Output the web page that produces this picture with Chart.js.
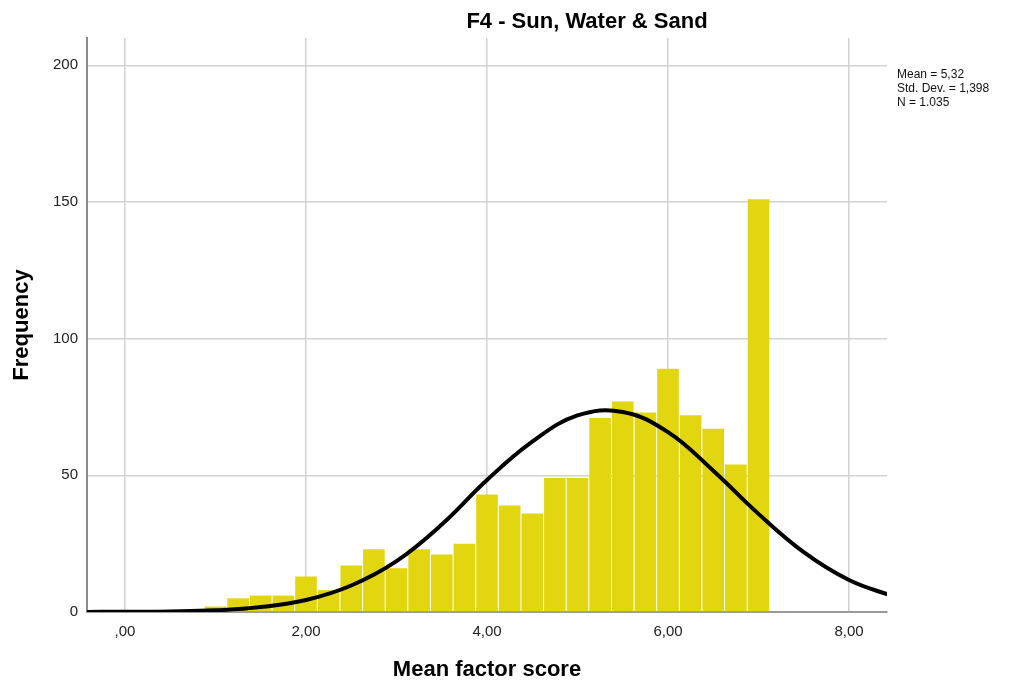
<!DOCTYPE html>
<html>
<head>
<meta charset="utf-8">
<script src="https://cdn.jsdelivr.net/npm/chart.js@4.4.1/dist/chart.umd.min.js"></script>
<style>
  html, body { margin: 0; padding: 0; background: #ffffff; }
  #wrap { width: 1021px; height: 683px; position: relative; }
</style>
</head>
<body>
<div id="wrap"><canvas id="c"></canvas></div>
<script>
// Histogram bins (bin centres) and frequencies
const binCenters = [1.00, 1.25, 1.50, 1.75, 2.00, 2.25, 2.50, 2.75, 3.00, 3.25, 3.50, 3.75, 4.00,
                    4.25, 4.50, 4.75, 5.00, 5.25, 5.50, 5.75, 6.00, 6.25, 6.50, 6.75, 7.00];
const frequencies = [2, 5, 6, 6, 13, 8, 17, 23, 16, 23, 21, 25, 43,
                     39, 36, 49, 49, 71, 77, 73, 89, 72, 67, 54, 151];

// Normal curve, points
const curveX = [-0.5, 0.0, 0.5, 1.0, 1.5, 2.0, 2.5, 3.0, 3.5, 4.0, 4.5, 5.0, 5.5, 6.0, 6.5, 7.0, 7.5, 8.0, 8.5];
const curveY = [0.0, 0.1, 0.2, 0.6, 1.8, 4.4, 9.7, 18.6, 32.0, 48.3, 62.3, 71.9, 73.2, 65.8, 51.7, 35.9, 21.9, 11.7, 5.6];

// Tick values and texts
const xTickValues = [0, 2, 4, 6, 8];
const xTickLabels = [",00", "2,00", "4,00", "6,00", "8,00"];
const yTickValues = [0, 50, 100, 150, 200];

const chartTitle = "F4 - Sun, Water & Sand";
const xTitle = "Mean factor score";
const yTitle = "Frequency";
const statsLines = ["Mean = 5,32", "Std. Dev. = 1,398", "N = 1.035"];

const FONT = "'Liberation Sans', Arial, sans-serif";

const textPlugin = {
  id: 'extraText',
  afterDraw(chart) {
    const ctx = chart.ctx;
    ctx.save();
    ctx.fillStyle = '#000';
    ctx.font = "bold 22px " + FONT;
    ctx.textAlign = 'center';
    ctx.textBaseline = 'alphabetic';
    ctx.fillText(chartTitle, 587, 28);
    ctx.font = "12px " + FONT;
    ctx.textAlign = 'left';
    ctx.fillStyle = '#111';
    statsLines.forEach((s, i) => ctx.fillText(s, 897, 78 + i * 14));
    ctx.restore();
  }
};

new Chart(document.getElementById('c'), {
  type: 'bar',
  data: {
    datasets: [
      {
        type: 'line',
        data: curveX.map((x, i) => ({ x: x, y: curveY[i] })),
        borderColor: '#000000',
        borderWidth: 4,
        pointRadius: 0,
        tension: 0.4,
        fill: false,
        order: 0
      },
      {
        type: 'bar',
        data: binCenters.map((x, i) => ({ x: x, y: frequencies[i] })),
        backgroundColor: '#e2d610',
        borderWidth: 0,
        barPercentage: 0.955,
        categoryPercentage: 1.0,
        order: 1
      }
    ]
  },
  options: {
    responsive: true,
    maintainAspectRatio: false,
    animation: false,
    layout: { padding: { top: 38, right: 134, left: 0, bottom: 0 } },
    plugins: {
      legend: { display: false },
      title: { display: false },
      tooltip: { enabled: false }
    },
    scales: {
      x: {
        type: 'linear',
        min: -0.42,
        max: 8.42,
        offset: false,
        afterFit(s) { s.height = 71; },
        afterBuildTicks(s) { s.ticks = xTickValues.map(v => ({ value: v })); },
        ticks: {
          includeBounds: false,
          padding: 11,
          color: '#222',
          font: { family: FONT, size: 15 },
          maxRotation: 0,
          callback: (v) => xTickLabels[xTickValues.indexOf(v)]
        },
        grid: { offset: false, color: '#d2d2d2', lineWidth: 1.5, drawTicks: false },
        border: { display: true, color: '#9a9a9a', width: 2 },
        title: {
          display: true,
          text: xTitle,
          color: '#000',
          font: { family: FONT, size: 22, weight: 'bold' },
          padding: { top: 0, bottom: 0 }
        }
      },
      y: {
        type: 'linear',
        min: 0,
        max: 210,
        afterFit(s) { s.width = 87; },
        afterBuildTicks(s) { s.ticks = yTickValues.map(v => ({ value: v })); },
        ticks: {
          padding: 9,
          color: '#222',
          font: { family: FONT, size: 15 }
        },
        grid: { color: '#d2d2d2', lineWidth: 1.5, drawTicks: false },
        border: { display: true, color: '#8a8a8a', width: 2 },
        title: {
          display: true,
          text: yTitle,
          color: '#000',
          font: { family: FONT, size: 22, weight: 'bold' },
          padding: { top: 9, bottom: 0 }
        }
      }
    }
  },
  plugins: [textPlugin]
});
</script>
</body>
</html>
